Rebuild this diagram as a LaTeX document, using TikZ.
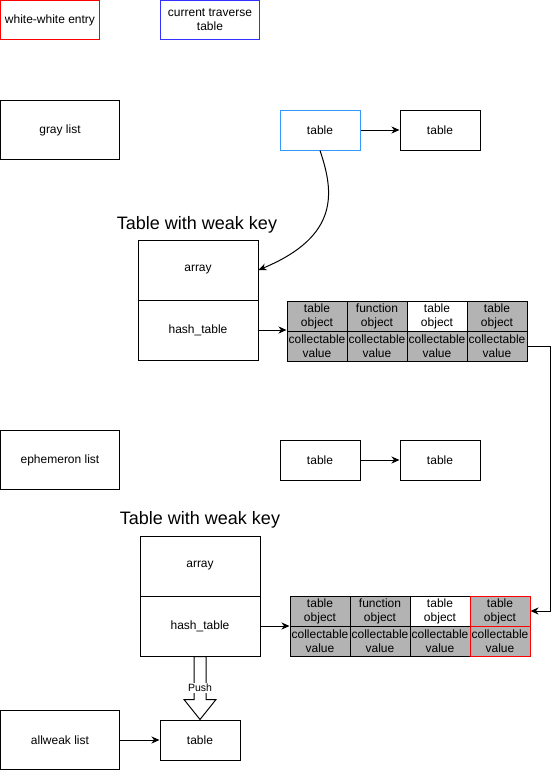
\documentclass[tikz,border=0pt]{standalone}
\usepackage{fontspec}
\setmainfont{Liberation Sans}
\usetikzlibrary{arrows.meta,calc}
\definecolor{cellgray}{RGB}{179,179,179}
\definecolor{hiblue}{RGB}{51,153,255}
\definecolor{legblue}{RGB}{51,51,255}
\begin{document}
\begin{tikzpicture}[x=1pt,y=-1pt,
  box/.style={draw,line width=1pt,fill=white,align=center,inner sep=0pt,
    font=\fontsize{12}{14}\selectfont},
  listbox/.style={box,minimum width=119pt,minimum height=59pt},
  tblbox/.style={box,minimum width=80pt,minimum height=40pt},
  partbox/.style={box,minimum width=120pt,minimum height=60pt},
  cell/.style={box,minimum width=60pt,minimum height=30pt,fill=cellgray},
  whitecell/.style={cell,fill=white},
  redcell/.style={cell,draw=red},
  title/.style={font=\fontsize{18}{21}\selectfont,inner sep=0pt},
  arr/.style={-{Stealth[length=8pt,width=7pt,inset=2.5pt]},line width=1pt},
]
\useasboundingbox (0,0) rectangle (559,771);

% legend
\node[box,minimum width=99pt,minimum height=39pt,draw=red] (legwhite) at (50,20) {white-white entry};
\node[box,minimum width=99pt,minimum height=39pt,draw=legblue] (legcur) at (210,20) {current traverse\\table};

% gray list section
\node[listbox] (graylist) at (60,130) {gray list};
\node[tblbox,draw=hiblue] (gtbl1) at (320,130) {table};
\node[tblbox] (gtbl2) at (440,130) {table};
\draw[arr] (gtbl1) -- (gtbl2);

\node[title] (title1) at (197,225) {Table with weak key};
\node[partbox] (array1) at (198,270) {array};
\node[partbox] (hash1) at (198,330) {hash\_table};
\draw[arr] (gtbl1.south) .. controls (334,192) and (340,236) .. (array1.east);

% first hash part
\node[cell] (a1) at (317,316) {table\\object};
\node[cell] (a2) at (377,316) {function\\object};
\node[whitecell] (a3) at (437,316) {table\\object};
\node[cell] (a4) at (497,316) {table\\object};
\node[cell] (b1) at (317,346) {collectable\\value};
\node[cell] (b2) at (377,346) {collectable\\value};
\node[cell] (b3) at (437,346) {collectable\\value};
\node[cell] (b4) at (497,346) {collectable\\value};
\draw[arr] (hash1.east) -- (hash1.east -| a1.west);

% ephemeron list section
\node[listbox] (ephlist) at (60,460) {ephemeron list};
\node[tblbox] (etbl1) at (320,460) {table};
\node[tblbox] (etbl2) at (440,460) {table};
\draw[arr] (etbl1) -- (etbl2);

\node[title] (title2) at (200,520) {Table with weak key};
\node[partbox] (array2) at (200,566) {array};
\node[partbox] (hash2) at (200,626) {hash\_table};

% second hash part
\node[cell] (c1) at (320,611) {table\\object};
\node[cell] (c2) at (380,611) {function\\object};
\node[whitecell] (c3) at (440,611) {table\\object};
\node[cell] (d1) at (320,641) {collectable\\value};
\node[cell] (d2) at (380,641) {collectable\\value};
\node[cell] (d3) at (440,641) {collectable\\value};
\node[redcell] (c4) at (500,611) {table\\object};
\node[redcell] (d4) at (500,641) {collectable\\value};
\draw[arr] (hash2.east) -- (hash2.east -| c1.west);

% moved entry
\draw[arr] (b4.east) -- ++(23,0) |- (c4.east);

% allweak list section
\node[listbox] (weaklist) at (60,740) {allweak list};
\node[tblbox] (wtbl) at (200,740) {table};
\draw[arr] (weaklist) -- (wtbl);

% push block arrow
\draw[line width=1pt,fill=white,line join=miter]
  ($(hash2.south)+(-6,0)$) -- ($(hash2.south)+(6,0)$)
  -- ($(wtbl.north)+(6,-20)$) -- ($(wtbl.north)+(16,-20)$)
  -- (wtbl.north) -- ($(wtbl.north)+(-16,-20)$)
  -- ($(wtbl.north)+(-6,-20)$) -- cycle;
\node[fill=white,inner sep=1pt,font=\fontsize{10.5}{12}\selectfont] (pushlbl)
  at ($(hash2.south)!0.5!(wtbl.north)$) {Push};
\end{tikzpicture}
\end{document}
